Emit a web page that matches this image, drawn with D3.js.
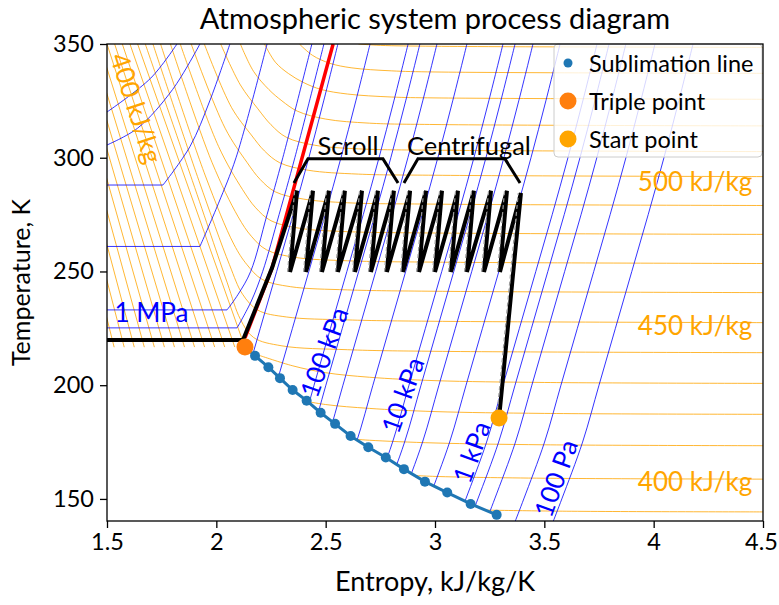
<!DOCTYPE html>
<html>
<head>
<meta charset="utf-8">
<script src="https://cdn.jsdelivr.net/npm/d3@7/dist/d3.min.js"></script>
<style>
  body { margin: 0; background: #fff; }
  svg text { font-family: Lato, "Open Sans", sans-serif; }
</style>
</head>
<body>
<div id="chart"></div>
<script>
// ---------- data (s in kJ/kg/K, T in K) ----------
const xTicks = [1.5, 2, 2.5, 3, 3.5, 4, 4.5];
const yTicks = [150, 200, 250, 300, 350];

const sublimationS = [2.131, 2.177, 2.238, 2.291, 2.349, 2.413, 2.477, 2.543, 2.614, 2.695, 2.775, 2.858, 2.954, 3.056, 3.163, 3.282];
const sublimationT = [216.8, 212.9, 207.9, 203.1, 197.9, 193.2, 187.9, 183.0, 177.7, 172.7, 168.2, 163.1, 157.6, 152.8, 147.8, 143.0];

const triplePoint = [2.131, 216.8];
const startPoint = [3.293, 185.6];

// low pressure isobars: entropy at 350 K, and the shared shape (entropy offset vs T)
const gasIsobarNames = ['500 kPa', '250 kPa', '100 kPa', '75 kPa', '50 kPa', '25 kPa', '10 kPa', '7.5 kPa', '5 kPa', '2.5 kPa',
  '1 kPa', '750 Pa', '500 Pa', '250 Pa', '100 Pa'];
const gasIsobarTopS = [2.556, 2.703, 2.877, 2.931, 3.009, 3.146, 3.311, 3.366, 3.448, 3.572,
  3.741, 3.796, 3.873, 4.006, 4.180];
const isobarShapeT = [350, 325, 300, 275, 250, 225, 200, 175, 150, 140];
const isobarShapeDs = [0, -0.065, -0.133, -0.205, -0.28, -0.355, -0.43, -0.505, -0.6, -0.64];

// high pressure isobars (gas part down to the dome, then flat through the dome)
const highIsobars = [
  {name: '750 kPa', s: [2.492, 2.359, 2.287, 2.212, 2.16, 2.095], T: [350, 300, 275, 250, 237, 225.2], flatT: 225.2},
  {name: '1 MPa', s: [2.437, 2.304, 2.232, 2.157, 2.1, 2.049], T: [350, 300, 275, 250, 240, 233.1], flatT: 233.1},
  {name: '2.5 MPa', s: [2.232, 2.09, 2.01, 1.925], T: [350, 300, 280, 261], flatT: 261},
  {name: '5 MPa', s: [2.062, 1.97, 1.88, 1.756], T: [350, 325, 305, 288], flatT: 288},
  {name: '7.5 MPa', s: [1.925, 1.8, 1.64, 1.5], T: [350, 330, 313, 305.6], flatT: null},
  {name: '10 MPa', s: [1.82, 1.7, 1.5], T: [350, 335, 320.1], flatT: null}
];

// isenthalps through the two-phase / dense region: entropy at 216.6 K and at 350 K
const denseH = [300, 310, 320, 330, 340, 350, 360, 370, 380, 390, 400, 410, 420, 430];
const denseSBottom = [1.533, 1.579, 1.625, 1.671, 1.717, 1.763, 1.809, 1.855, 1.901, 1.947, 1.993, 2.039, 2.085, 2.131];
const denseSTop = [1.185, 1.22, 1.255, 1.29, 1.325, 1.36, 1.395, 1.43, 1.465, 1.50, 1.535, 1.57, 1.605, 1.64];

// isenthalps in the vapour region, [s, T] points
const gasH = [390, 400, 410, 420, 430, 440, 450, 460, 470, 480, 490, 500, 510, 520, 530, 540, 550];
const gasIsenthalps = [
  [[4.5, 144.3], [3.6, 144.6], [3.1, 145.3]],
  [[4.5, 158.7], [3.5, 159.1], [3.0, 159.9], [2.85, 160.6]],
  [[4.5, 173.4], [3.5, 173.8], [3.0, 174.6], [2.7, 175.8], [2.6, 176.5]],
  [[4.5, 187.2], [3.5, 187.6], [3.0, 188.4], [2.7, 189.8], [2.5, 191.5], [2.35, 194]],
  [[4.5, 200.8], [3.5, 201.2], [3.0, 202.0], [2.7, 203.5], [2.5, 205.5], [2.35, 208.5], [2.2, 213]],
  [[1.675, 350], [1.89, 290], [2.05, 245], [2.11, 229], [2.17, 221], [2.3, 217.3], [2.6, 215.6], [3.0, 214.9], [4.5, 214.3]],
  [[1.71, 350], [1.92, 290], [2.06, 253], [2.12, 240], [2.19, 233], [2.32, 230], [2.6, 228.7], [3.0, 228.1], [4.5, 227.5]],
  [[1.745, 350], [1.95, 292], [2.08, 262], [2.14, 253], [2.21, 246.5], [2.34, 243.3], [2.6, 241.9], [3.0, 241.3], [4.5, 240.7]],
  [[1.79, 350], [1.98, 298], [2.1, 274], [2.16, 265.5], [2.23, 259.5], [2.36, 256.2], [2.6, 254.7], [3.0, 254.1], [4.5, 253.5]],
  [[1.835, 350], [2.01, 305], [2.12, 286], [2.18, 278], [2.25, 272.3], [2.38, 269], [2.6, 267.5], [3.0, 266.9], [4.5, 266.3]],
  [[1.885, 350], [2.04, 313], [2.14, 298], [2.2, 290.5], [2.27, 285], [2.4, 281.8], [2.6, 280.2], [3.0, 279.6], [4.5, 279]],
  [[1.945, 350], [2.07, 322], [2.16, 310], [2.22, 303], [2.29, 297.8], [2.42, 294.5], [2.65, 292.8], [3.0, 292.3], [4.5, 291.7]],
  [[2.02, 350], [2.11, 332], [2.19, 321.5], [2.25, 314.5], [2.32, 309], [2.45, 305.5], [2.65, 303.9], [3.0, 303.3], [4.5, 302.7]],
  [[2.11, 350], [2.17, 338], [2.24, 330], [2.3, 325], [2.37, 320.5], [2.5, 317], [2.7, 315.2], [3.0, 314.6], [4.5, 314]],
  [[2.22, 350], [2.27, 342], [2.33, 337], [2.4, 333], [2.48, 330], [2.6, 328], [2.8, 326.7], [3.0, 326.3], [4.5, 325.7]],
  [[2.38, 350], [2.44, 345], [2.52, 341.5], [2.62, 339.5], [2.8, 338.2], [3.0, 337.7], [4.5, 337.1]],
  [[2.65, 350], [2.75, 349.4], [3.0, 349], [4.5, 348.5]]
];

// compression / cooling path
const processS = [3.293, 3.393,
  3.297, 3.329, 3.224, 3.256, 3.146, 3.178, 3.073, 3.105, 3.000, 3.032, 2.927, 2.959, 2.854, 2.886,
  2.780, 2.812, 2.707, 2.739, 2.634, 2.666, 2.556, 2.588, 2.483, 2.515, 2.410, 2.442, 2.337, 2.369,
  2.255, 2.122, 1.5];
const processT = [185.6, 284.5,
  249.8, 285.5, 249.8, 285.5, 249.8, 285.5, 249.8, 285.5, 249.8, 285.5, 249.8, 285.5, 249.8, 285.5,
  249.8, 285.5, 249.8, 285.5, 249.8, 285.5, 249.8, 285.5, 249.8, 285.5, 249.8, 285.5, 249.8, 285.5,
  251.6, 219.9, 219.9];
// dashed reference compressions: start and end of each
const refCompS0 = [3.282, 3.286, 3.213, 3.135, 3.062, 2.989, 2.916, 2.843, 2.769, 2.696, 2.623, 2.545, 2.472, 2.399, 2.326];
const refCompS1 = [3.381, 3.318, 3.245, 3.167, 3.094, 3.021, 2.948, 2.875, 2.801, 2.728, 2.655, 2.577, 2.504, 2.431, 2.358];
const refCompT0 = [185.6, 249.8, 249.8, 249.8, 249.8, 249.8, 249.8, 249.8, 249.8, 249.8, 249.8, 249.8, 249.8, 249.8, 249.8];
const refCompT1 = [284.5, 285.5, 285.5, 285.5, 285.5, 285.5, 285.5, 285.5, 285.5, 285.5, 285.5, 285.5, 285.5, 285.5, 285.5];

const redS = [2.131, 2.255, 2.534];
const redT = [220.8, 251.6, 350];

const scrollS = [2.355, 2.419, 2.762, 2.831];
const centrifugalS = [2.858, 2.922, 3.320, 3.389];
const bracketT = [288.9, 299.5, 299.5, 288.9];

const isobarLabels = [
  {text: '1 MPa', s: 1.703, T: 232.4, angle: 0},
  {text: '100 kPa', s: 2.49, T: 214.6, angle: -70},
  {text: '10 kPa', s: 2.85, T: 195.7, angle: -70},
  {text: '1 kPa', s: 3.165, T: 170.7, angle: -70},
  {text: '100 Pa', s: 3.55, T: 159.2, angle: -70}
];
const isenthalpLabels = [
  {text: '500 kJ/kg', s: 4.189, T: 289.8, angle: 0},
  {text: '450 kJ/kg', s: 4.189, T: 226.5, angle: 0},
  {text: '400 kJ/kg', s: 4.189, T: 157.9, angle: 0},
  {text: '400 kJ/kg', s: 1.637, T: 321.9, angle: 72}
];

// ---------- drawing ----------
const W = 779, H = 605;
const margin = {top: 44, right: 16, bottom: 84, left: 107};
const width = W - margin.left - margin.right,
      height = H - margin.top - margin.bottom;

const blue = '#1f77b4', orange = '#ff7f0e', startCol = '#ffa500';

const svg = d3.select('#chart').append('svg')
    .attr('width', W).attr('height', H);

const x = d3.scaleLinear().domain([1.5, 4.5]).range([margin.left, margin.left + width]);
const y = d3.scaleLinear().domain([140.3, 350]).range([margin.top + height, margin.top]);

const defs = svg.append('defs');
defs.append('clipPath').attr('id', 'plotClip')
  .append('rect').attr('x', margin.left).attr('y', margin.top).attr('width', width).attr('height', height);

// region where the fluid is not solid (above triple point temperature / sublimation line)
let clipPts = [[1.5, 350], [4.5, 350], [4.5, 140.3], [3.282, 140.3]];
for (let i = sublimationS.length - 1; i >= 0; i--) clipPts.push([sublimationS[i], sublimationT[i]]);
clipPts.push([1.5, triplePoint[1] - 0.2]);
defs.append('clipPath').attr('id', 'fluidClip')
  .append('polygon').attr('points', clipPts.map(d => x(d[0]) + ',' + y(d[1])).join(' '));

const smooth = d3.line().x(d => x(d[0])).y(d => y(d[1])).curve(d3.curveCatmullRom.alpha(0.5));
const straight = d3.line().x(d => x(d[0])).y(d => y(d[1]));

const iso = svg.append('g').attr('clip-path', 'url(#fluidClip)');

// isenthalps
denseH.forEach(function(h, i) {
  iso.append('path')
    .attr('d', straight([[denseSBottom[i], 216.6], [denseSTop[i], 350]]))
    .attr('fill', 'none').attr('stroke', '#ffa500').attr('stroke-width', 0.8);
});
gasIsenthalps.forEach(function(pts) {
  iso.append('path')
    .attr('d', smooth(pts))
    .attr('fill', 'none').attr('stroke', '#ffa500').attr('stroke-width', 0.8);
});

// isobars
gasIsobarTopS.forEach(function(s0) {
  const pts = isobarShapeT.map((T, i) => [s0 + isobarShapeDs[i], T]);
  iso.append('path')
    .attr('d', smooth(pts))
    .attr('fill', 'none').attr('stroke', '#0000ff').attr('stroke-width', 0.8);
});
highIsobars.forEach(function(p) {
  const pts = p.s.map((s, i) => [s, p.T[i]]);
  iso.append('path')
    .attr('d', smooth(pts))
    .attr('fill', 'none').attr('stroke', '#0000ff').attr('stroke-width', 0.8);
  if (p.flatT !== null) {
    iso.append('path')
      .attr('d', straight([[p.s[p.s.length - 1], p.flatT], [1.5, p.flatT]]))
      .attr('fill', 'none').attr('stroke', '#0000ff').attr('stroke-width', 0.8);
  }
});

const plot = svg.append('g').attr('clip-path', 'url(#plotClip)');

// red line
plot.append('path')
  .attr('d', straight(redS.map((s, i) => [s, redT[i]])))
  .attr('fill', 'none').attr('stroke', '#ff0000').attr('stroke-width', 3.5);

// process path
plot.append('path')
  .attr('d', straight(processS.map((s, i) => [s, processT[i]])))
  .attr('fill', 'none').attr('stroke', '#000').attr('stroke-width', 4)
  .attr('stroke-linejoin', 'miter').attr('stroke-miterlimit', 3);

refCompS0.forEach(function(s0, i) {
  plot.append('path')
    .attr('d', straight([[s0, refCompT0[i]], [refCompS1[i], refCompT1[i]]]))
    .attr('fill', 'none').attr('stroke', '#9a9a9a').attr('stroke-width', 1.2)
    .attr('stroke-dasharray', '4,3');
});

// brackets
[scrollS, centrifugalS].forEach(function(bs) {
  plot.append('path')
    .attr('d', straight(bs.map((s, i) => [s, bracketT[i]])))
    .attr('fill', 'none').attr('stroke', '#000').attr('stroke-width', 3);
});
plot.append('text').attr('x', x(2.602)).attr('y', y(301.2))
  .attr('text-anchor', 'middle').style('font-size', '25.5px').text('Scroll');
plot.append('text').attr('x', x(3.155)).attr('y', y(301.2))
  .attr('text-anchor', 'middle').style('font-size', '25.5px').text('Centrifugal');

// sublimation line
const sub = sublimationS.map((s, i) => [s, sublimationT[i]]);
plot.append('path').attr('d', straight(sub))
  .attr('fill', 'none').attr('stroke', blue).attr('stroke-width', 3);
plot.selectAll('.subdot').data(sub).enter().append('circle')
  .attr('cx', d => x(d[0])).attr('cy', d => y(d[1])).attr('r', 5).attr('fill', blue);

plot.append('circle').attr('cx', x(triplePoint[0])).attr('cy', y(triplePoint[1])).attr('r', 8.5).attr('fill', orange);
plot.append('circle').attr('cx', x(startPoint[0])).attr('cy', y(startPoint[1])).attr('r', 8.5).attr('fill', startCol);

// contour labels
isobarLabels.forEach(function(l) {
  plot.append('text')
    .attr('transform', 'translate(' + x(l.s) + ',' + y(l.T) + ') rotate(' + l.angle + ')')
    .attr('text-anchor', 'middle').attr('dominant-baseline', 'central')
    .attr('fill', '#0000ff').style('font-size', '26px').text(l.text);
});
isenthalpLabels.forEach(function(l) {
  plot.append('text')
    .attr('transform', 'translate(' + x(l.s) + ',' + y(l.T) + ') rotate(' + l.angle + ')')
    .attr('text-anchor', 'middle').attr('dominant-baseline', 'central')
    .attr('fill', '#ffa500').style('font-size', '26px').text(l.text);
});

// legend
const legend = svg.append('g');
legend.append('rect').attr('x', 554).attr('y', 44).attr('width', 208).attr('height', 113)
  .attr('rx', 4).attr('fill', '#fff').attr('fill-opacity', 0.8).attr('stroke', '#cccccc');
const legendItems = [
  {label: 'Sublimation line', color: blue, r: 4.5},
  {label: 'Triple point', color: orange, r: 8.5},
  {label: 'Start point', color: startCol, r: 8.5}
];
legendItems.forEach(function(d, i) {
  legend.append('circle').attr('cx', 568).attr('cy', 63 + i * 38).attr('r', d.r).attr('fill', d.color);
  legend.append('text').attr('x', 589).attr('y', 63 + i * 38).attr('dominant-baseline', 'central')
    .style('font-size', '23.5px').text(d.label);
});

// axes
const xAxis = svg.append('g').attr('transform', 'translate(0,' + (margin.top + height) + ')')
  .call(d3.axisBottom(x).tickValues(xTicks).tickFormat(d3.format('~g')).tickSize(7).tickPadding(5));
const yAxis = svg.append('g').attr('transform', 'translate(' + margin.left + ',0)')
  .call(d3.axisLeft(y).tickValues(yTicks).tickSize(7).tickPadding(6));
[xAxis, yAxis].forEach(function(a) {
  a.select('.domain').remove();
  a.selectAll('line').attr('stroke', '#000').attr('stroke-width', 1.3);
  a.selectAll('text').style('font-size', '23.5px').attr('fill', '#000')
    .style('font-family', 'Lato, sans-serif');
});
// keep the last x tick label inside the picture
xAxis.selectAll('.tick').filter(d => d === 4.5).select('text').attr('dx', -2);

svg.append('rect').attr('x', margin.left).attr('y', margin.top).attr('width', width).attr('height', height)
  .attr('fill', 'none').attr('stroke', '#000').attr('stroke-width', 1.3);

svg.append('text').attr('x', margin.left + width / 2).attr('y', 29)
  .attr('text-anchor', 'middle').style('font-size', '29px').text('Atmospheric system process diagram');
svg.append('text').attr('x', margin.left + width / 2).attr('y', 591)
  .attr('text-anchor', 'middle').style('font-size', '27px').text('Entropy, kJ/kg/K');
svg.append('text').attr('transform', 'translate(30,' + (margin.top + height / 2) + ') rotate(-90)')
  .attr('text-anchor', 'middle').style('font-size', '25px').text('Temperature, K');
</script>
</body>
</html>
